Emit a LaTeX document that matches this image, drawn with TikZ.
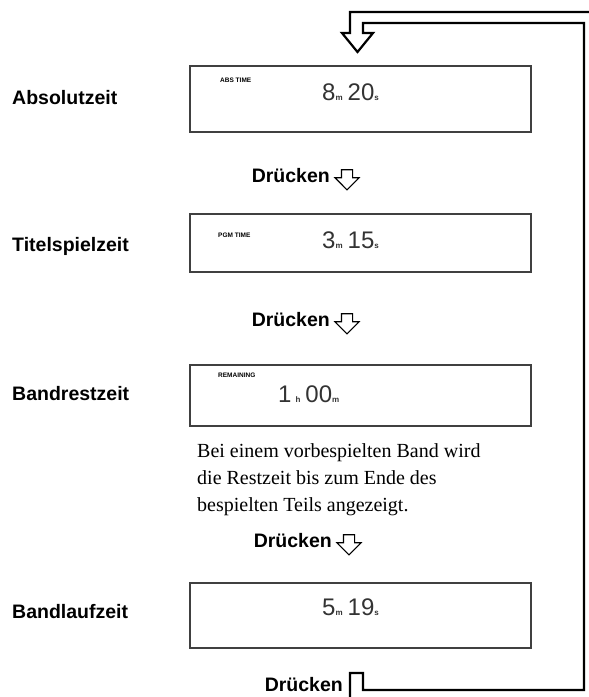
\documentclass[tikz,border=0pt]{standalone}
\usepackage{fontspec}
\usepackage{tikz}
\usetikzlibrary{shapes,arrows.meta,positioning}
\newfontfamily\lblfont{Liberation Sans}
\newfontfamily\notefont{Liberation Serif}
\newcommand{\lcdunit}[1]{{\fontsize{8}{8}\selectfont\bfseries #1}}

\begin{document}
\begin{tikzpicture}[x=1pt, y=-1pt, every node/.style={font=\lblfont\bfseries\fontsize{19.5}{22}\selectfont}]
    \tikzstyle{display} = [rectangle, draw=black!75, line width=1.2pt, minimum width=341pt, inner sep=0pt]
    \tikzstyle{tag} = [anchor=west, inner sep=0pt, font=\lblfont\bfseries\fontsize{6.5}{7}\selectfont]
    \tikzstyle{readout} = [anchor=base west, inner sep=0pt, text=black!80, font=\lblfont\fontsize{24}{26}\selectfont]
    \tikzstyle{mode} = [anchor=west, inner sep=0pt]
    \tikzstyle{press} = [anchor=east, inner sep=0pt]
    \tikzstyle{hollow} = [single arrow, draw, line width=1.1pt, shape border rotate=270,
        minimum height=20pt, single arrow head extend=6.5pt, inner sep=5pt]
    \useasboundingbox (0,0) rectangle (589,697);
    \clip (0,0) rectangle (589,697);

    % displays
    \node (abs) [display, minimum height=66pt] at (360.5,99) {};
    \node (pgm) [display, minimum height=58pt] at (360.5,243) {};
    \node (rem) [display, minimum height=61pt] at (360.5,395.5) {};
    \node (run) [display, minimum height=65pt] at (360.5,615.5) {};

    \node (abstag) [tag] at (220,80) {ABS TIME};
    \node (pgmtag) [tag] at (218,235) {PGM TIME};
    \node (remtag) [tag] at (218,375) {REMAINING};

    \node (absval) [readout] at (322,100) {8\lcdunit{m}\hspace{5pt}20\lcdunit{s}};
    \node (pgmval) [readout] at (322,248) {3\lcdunit{m}\hspace{5pt}15\lcdunit{s}};
    \node (remval) [readout] at (278,402) {1\hspace{4pt}\lcdunit{h}\hspace{5pt}00\lcdunit{m}};
    \node (runval) [readout] at (322,615) {5\lcdunit{m}\hspace{5pt}19\lcdunit{s}};

    % mode names
    \node (absname) [mode] at (12,98) {Absolutzeit};
    \node (pgmname) [mode] at (12,246) {Titelspielzeit};
    \node (remname) [mode] at (12,394) {Bandrestzeit};
    \node (runname) [mode] at (12,612) {Bandlaufzeit};

    \node (note) [anchor=north west, align=left, inner sep=0pt,
        font=\notefont\fontsize{20}{27}\selectfont] at (197,443)
        {Bei einem vorbespielten Band wird\\die Restzeit bis zum Ende des\\bespielten Teils angezeigt.};

    % press steps
    \node (press1) [press] at (330,176) {Drücken};
    \node (press2) [press] at (330,320) {Drücken};
    \node (press3) [press] at (332,541) {Drücken};
    \node (press4) [press] at (343,685) {Drücken};
    \node (arrow1) [hollow] at ([xshift=17pt,yshift=-1pt]press1.east) {};
    \node (arrow2) [hollow] at ([xshift=17pt,yshift=-1pt]press2.east) {};
    \node (arrow3) [hollow] at ([xshift=17pt,yshift=-1pt]press3.east) {};

    % return loop
    \draw [line width=2.2pt, line join=miter]
        (350,720) -- (350,673) -- (363,673) -- (363,690) -- (584,690) -- (584,23)
        -- (363,23) -- (363,33) -- (373,33) -- (357.5,52) -- (342,33) -- (350,33)
        -- (350,12) -- (597,12) -- (597,703) -- (350,703);
\end{tikzpicture}
\end{document}
